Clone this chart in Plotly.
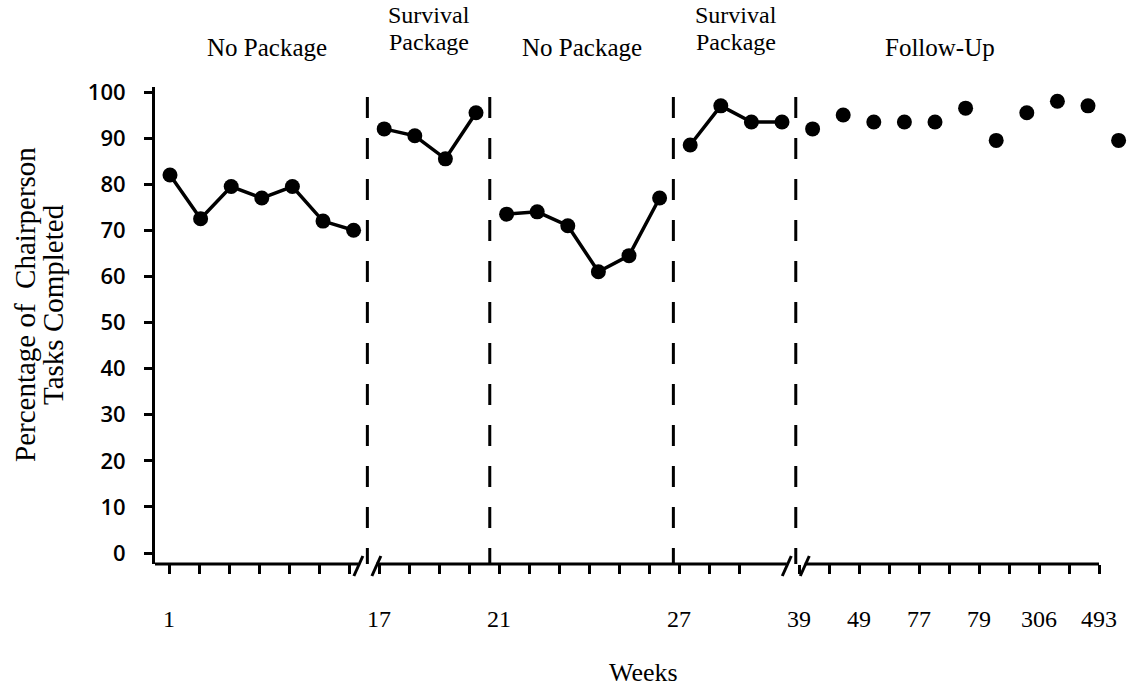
import plotly.graph_objects as go

# ---------------- data ----------------
phase_names = ["No Package", "Survival Package", "No Package", "Survival Package", "Follow-Up"]
baseline_1 = [82, 72.5, 79.5, 77, 79.5, 72, 70]
survival_1 = [92, 90.5, 85.5, 95.5]
baseline_2 = [73.5, 74, 71, 61, 64.5, 77]
survival_2 = [88.5, 97, 93.5, 93.5]
follow_up = [92, 95, 93.5, 93.5, 93.5, 96.5, 89.5, 95.5, 98, 97, 89.5]
week_labels = ["1", "17", "21", "27", "39", "49", "77", "79", "306", "493"]
labeled_sessions = [1, 8, 12, 18, 22, 24, 26, 28, 30, 32]
y_ticks = [0, 10, 20, 30, 40, 50, 60, 70, 80, 90, 100]
y_title_lines = ["Percentage of  Chairperson", "Tasks Completed"]
x_title = "Weeks"

phase_values = [baseline_1, survival_1, baseline_2, survival_2, follow_up]
phase_connected = [True, True, True, True, False]

# ---------------- geometry helpers ----------------
W, H = 1135, 687
ML, MR, MT, MB = 155, 5, 87, 123
PXU = 30.6          # pixels per session
X0PX = 170          # pixel of session index 0
PLOT_W = W - ML - MR
PLOT_H = H - MT - MB


def px2x(px):
    return (px - X0PX) / PXU


def px2p(px):
    return (px - ML) / PLOT_W


def py2p(py):
    return (H - MB - py) / PLOT_H


YPX0, YPXU = 553, 4.61  # pixel of value 0, pixels per unit
y_range = [(YPX0 - (H - MB)) / YPXU, (YPX0 - MT) / YPXU]
x_range = [px2x(ML), px2x(W - MR)]

SERIF = "Liberation Serif, Times New Roman, serif"
fig = go.Figure()

# ---------------- traces ----------------
start = 0
phase_x = []
for vals, conn in zip(phase_values, phase_connected):
    xs = list(range(start, start + len(vals)))
    phase_x.append(xs)
    fig.add_trace(go.Scatter(
        x=xs, y=vals,
        mode="lines+markers" if conn else "markers",
        line=dict(color="black", width=3.5),
        marker=dict(color="black", size=15),
        cliponaxis=False, showlegend=False,
    ))
    start += len(vals)

# phase change lines (dashed)
boundaries = [xs[-1] + 0.45 for xs in phase_x[:-1]]
for b in boundaries:
    fig.add_shape(type="line", xref="x", yref="paper",
                  x0=b, x1=b, y0=py2p(97), y1=0,
                  line=dict(color="black", width=3, dash="21px,20px"))

# x axis line with breaks at first and last boundary
axis_end = px2x(169 + 30 * 31)
breaks = [boundaries[0], boundaries[-1]]
half_gap = 9 / PXU
segs = [(x_range[0], breaks[0] - half_gap),
        (breaks[0] + half_gap, breaks[1] - half_gap),
        (breaks[1] + half_gap, axis_end)]
for a, b in segs:
    fig.add_shape(type="line", xref="x", yref="paper", x0=a, x1=b, y0=0, y1=0,
                  line=dict(color="black", width=3))
for br in breaks:
    for c in (br - half_gap, br + half_gap):
        fig.add_shape(type="line", xref="x", yref="paper",
                      x0=c + 4.5 / PXU, x1=c - 4.5 / PXU,
                      y0=8 / PLOT_H, y1=-12 / PLOT_H,
                      line=dict(color="black", width=3))

# tick positions on the axis
tickvals, ticktext = [], []
for k in range(32):
    if k == 20:
        continue
    tickvals.append(px2x(169 + 30 * k))
    ticktext.append(week_labels[labeled_sessions.index(k + 1)] if (k + 1) in labeled_sessions else "")

# ---------------- annotations ----------------
annos = []
phase_label_px = [(267, [47]), (429, [15, 42]), (582, [47]), (736, [15, 42]), (940, [47])]
for name, (cx, pys) in zip(phase_names, phase_label_px):
    words = [name] if len(pys) == 1 else name.split(" ")
    for txt, py in zip(words, pys):
        annos.append(dict(x=px2p(cx), y=py2p(py), xref="paper", yref="paper",
                          text=txt, showarrow=False, xanchor="center", yanchor="middle",
                          font=dict(family=SERIF, size=25 if len(pys) == 1 else 24,
                                    color="black")))
annos.append(dict(x=px2p(643), y=py2p(672), xref="paper", yref="paper", text=x_title,
                  showarrow=False, xanchor="center", yanchor="middle",
                  font=dict(family=SERIF, size=26, color="black")))
for txt, px in zip(y_title_lines, [25, 53]):
    annos.append(dict(x=px2p(px), y=py2p(305), xref="paper", yref="paper", text=txt,
                      textangle=-90, showarrow=False, xanchor="center", yanchor="middle",
                      font=dict(family=SERIF, size=29, color="black")))

fig.update_layout(
    width=W, height=H,
    margin=dict(l=ML, r=MR, t=MT, b=MB, pad=0),
    paper_bgcolor="white", plot_bgcolor="white",
    annotations=annos,
    xaxis=dict(range=x_range, showgrid=False, zeroline=False, showline=False,
               tickmode="array", tickvals=tickvals, ticktext=ticktext,
               ticks="outside", ticklen=9, tickwidth=3, tickcolor="black",
               ticklabelstandoff=24,
               tickfont=dict(family=SERIF, size=24, color="black")),
    yaxis=dict(range=y_range, showgrid=False, zeroline=False, showline=True,
               linecolor="black", linewidth=3,
               tickmode="array", tickvals=y_ticks,
               ticks="outside", ticklen=8, tickwidth=3, tickcolor="black",
               ticklabelstandoff=14,
               tickfont=dict(family="Open Sans, Liberation Sans, sans-serif", size=22,
                             color="black", weight=600)),
)

fig.write_html("out.html", config={"displayModeBar": False},
               post_script="document.body.style.margin='0';")
